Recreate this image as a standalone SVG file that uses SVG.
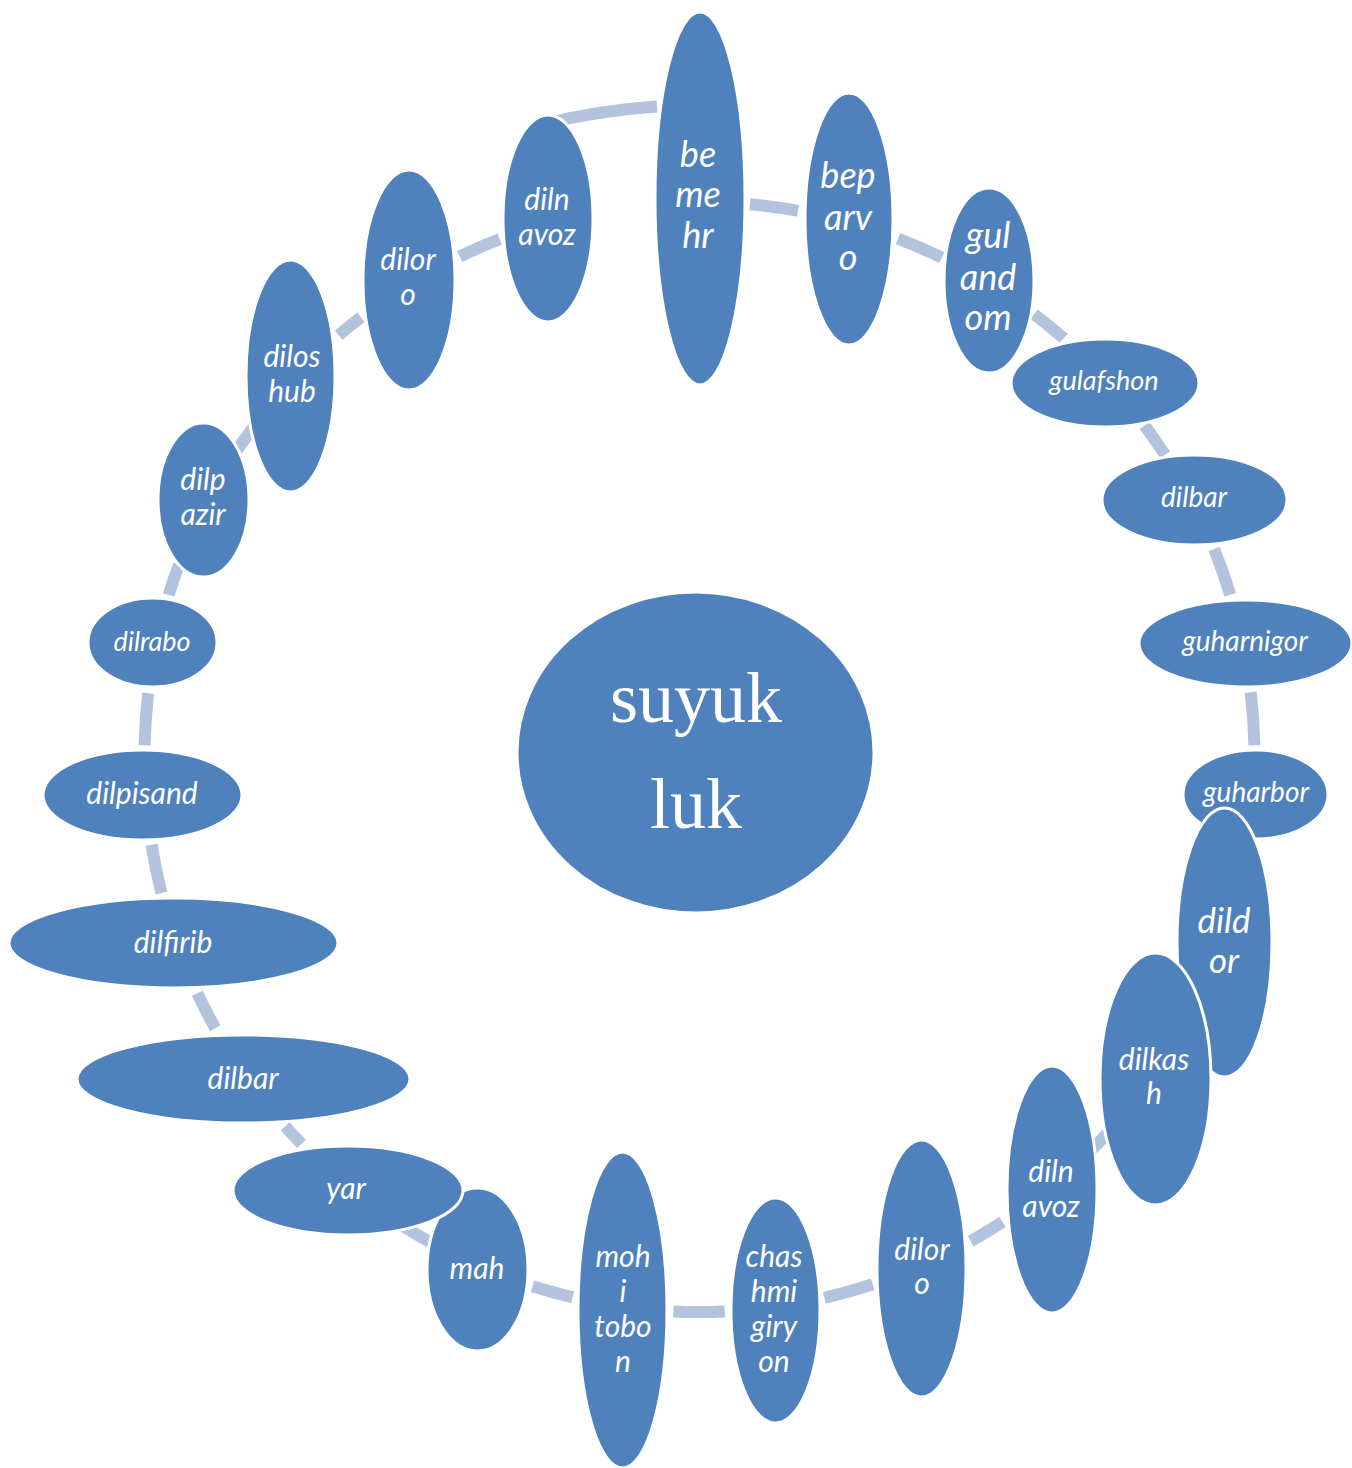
<svg xmlns="http://www.w3.org/2000/svg" width="1352" height="1468" viewBox="0 0 1352 1468">
<style>
.n{fill:#4F81BD;stroke:#FFFFFF;stroke-width:3}
.t{fill:#FFFFFF;font-family:Lato,"Open Sans","Liberation Sans",sans-serif;font-style:italic;text-anchor:middle}
.c{fill:none;stroke:#B3C3DE;stroke-width:12;stroke-linecap:butt}
.ctr{fill:#FFFFFF;font-family:"Liberation Serif","Times New Roman",serif;font-size:72px;text-anchor:middle}
</style>
<rect width="1352" height="1468" fill="#FFFFFF"/>
<g id="connectors">
<path class="c" d="M541.8 124.4 A652 652 0 0 1 657 106.4"/>
<path class="c" d="M750 204.3 A555 555 0 0 1 798 210.8"/>
<path class="c" d="M898 238.7 A555 555 0 0 1 941.9 257.7"/>
<path class="c" d="M1034.1 314.2 A555 555 0 0 1 1063.8 338.3"/>
<path class="c" d="M1144.5 425.3 A555 555 0 0 1 1165 454.7"/>
<path class="c" d="M1214.1 549.1 A555 555 0 0 1 1230.2 594.7"/>
<path class="c" d="M1250.7 692.3 A555 555 0 0 1 1254.4 745.4"/>
<path class="c" d="M1108.7 1131.9 A555 555 0 0 1 1088.5 1152.9"/>
<path class="c" d="M1002.6 1221.9 A555 555 0 0 1 970.7 1241.2"/>
<path class="c" d="M872.8 1284.2 A555 555 0 0 1 824.4 1297.8"/>
<path class="c" d="M724.7 1311.4 A555 555 0 0 1 673.4 1311.4"/>
<path class="c" d="M572.7 1297.4 A555 555 0 0 1 532.6 1286.3"/>
<path class="c" d="M456.2 1255.8 A555 555 0 0 1 389.1 1217.1"/>
<path class="c" d="M301.6 1143.9 A555 555 0 0 1 285.1 1126.2"/>
<path class="c" d="M215.3 1028.2 A555 555 0 0 1 197.3 993.3"/>
<path class="c" d="M161.5 893.1 A555 555 0 0 1 151.5 844.8"/>
<path class="c" d="M144.6 745.4 A555 555 0 0 1 148.2 693.2"/>
<path class="c" d="M168.7 594.9 A555 555 0 0 1 179 564.5"/>
<path class="c" d="M228.8 462.9 A555 555 0 0 1 256.3 423"/>
<path class="c" d="M338.6 335.3 A555 555 0 0 1 360.9 317.3"/>
<path class="c" d="M459.7 256.5 A555 555 0 0 1 499.7 239.2"/>
</g>
<g id="center">
<ellipse class="n" cx="695.5" cy="752.5" rx="178.5" ry="160.5"/>
<text class="ctr" x="696" y="722">suyuk</text>
<text class="ctr" x="696" y="828">luk</text>
</g>
<g id="n1"><ellipse class="n" cx="700" cy="198.5" rx="45" ry="186.5"/>
<text class="t" font-size="36" x="698" y="167">be</text><text class="t" font-size="36" x="698" y="207">me</text><text class="t" font-size="36" x="698" y="248">hr</text></g>
<g id="n2"><ellipse class="n" cx="849" cy="219" rx="44" ry="126"/>
<text class="t" font-size="36" x="848" y="188">bep</text><text class="t" font-size="36" x="848" y="230">arv</text><text class="t" font-size="36" x="848" y="270">o</text></g>
<g id="n3"><ellipse class="n" cx="989" cy="280.5" rx="45" ry="92.5"/>
<text class="t" font-size="36" x="988" y="248">gul</text><text class="t" font-size="36" x="988" y="290">and</text><text class="t" font-size="36" x="988" y="330">om</text></g>
<g id="n4"><ellipse class="n" cx="1105" cy="383" rx="94" ry="44"/>
<text class="t" font-size="27" x="1104" y="390">gulafshon</text></g>
<g id="n5"><ellipse class="n" cx="1194.5" cy="500" rx="92.5" ry="45"/>
<text class="t" font-size="28" x="1194" y="507">dilbar</text></g>
<g id="n6"><ellipse class="n" cx="1245.5" cy="643.5" rx="106.5" ry="43.5"/>
<text class="t" font-size="28" x="1245" y="651">guharnigor</text></g>
<g id="n7"><ellipse class="n" cx="1255.5" cy="794.5" rx="72.5" ry="44.5"/>
<text class="t" font-size="28" x="1256" y="802">guharbor</text></g>
<g id="n8"><ellipse class="n" cx="1224.5" cy="942.5" rx="47.5" ry="134.5"/>
<text class="t" font-size="35" x="1224" y="933">dild</text><text class="t" font-size="35" x="1224" y="973">or</text></g>
<g id="n9"><ellipse class="n" cx="1155.5" cy="1079" rx="55.5" ry="126"/>
<text class="t" font-size="30" x="1154" y="1070">dilkas</text><text class="t" font-size="30" x="1154" y="1104">h</text></g>
<g id="n10"><ellipse class="n" cx="1052" cy="1189.5" rx="45" ry="123.5"/>
<text class="t" font-size="30" x="1051" y="1182">diln</text><text class="t" font-size="30" x="1051" y="1217">avoz</text></g>
<g id="n11"><ellipse class="n" cx="921.5" cy="1268.5" rx="44.5" ry="128.5"/>
<text class="t" font-size="30" x="922" y="1260">dilor</text><text class="t" font-size="30" x="922" y="1294">o</text></g>
<g id="n12"><ellipse class="n" cx="775.5" cy="1310.5" rx="44.5" ry="112.5"/>
<text class="t" font-size="30" x="774" y="1267">chas</text><text class="t" font-size="30" x="774" y="1302">hmi</text><text class="t" font-size="30" x="774" y="1337">giry</text><text class="t" font-size="30" x="774" y="1372">on</text></g>
<g id="n13"><ellipse class="n" cx="622.5" cy="1310" rx="44.5" ry="158"/>
<text class="t" font-size="30" x="623" y="1267">moh</text><text class="t" font-size="30" x="623" y="1302">i</text><text class="t" font-size="30" x="623" y="1337">tobo</text><text class="t" font-size="30" x="623" y="1372">n</text></g>
<g id="n14"><ellipse class="n" cx="477.5" cy="1269.5" rx="50.5" ry="81.5"/>
<text class="t" font-size="30" x="477" y="1279">mah</text></g>
<g id="n15"><ellipse class="n" cx="348" cy="1190.5" rx="115" ry="44.5"/>
<text class="t" font-size="30" x="346" y="1199">yar</text></g>
<g id="n16"><ellipse class="n" cx="243.5" cy="1079" rx="166.5" ry="44"/>
<text class="t" font-size="30" x="243" y="1089">dilbar</text></g>
<g id="n17"><ellipse class="n" cx="173.5" cy="943" rx="164.5" ry="45"/>
<text class="t" font-size="30" x="173" y="953">dilfirib</text></g>
<g id="n18"><ellipse class="n" cx="142.5" cy="795" rx="99.5" ry="45"/>
<text class="t" font-size="30" x="142" y="804">dilpisand</text></g>
<g id="n19"><ellipse class="n" cx="152.5" cy="642.5" rx="64.5" ry="44.5"/>
<text class="t" font-size="27" x="152" y="651">dilrabo</text></g>
<g id="n20"><ellipse class="n" cx="203.5" cy="500" rx="45.5" ry="77"/>
<text class="t" font-size="30" x="203" y="490">dilp</text><text class="t" font-size="30" x="203" y="525">azir</text></g>
<g id="n21"><ellipse class="n" cx="290.5" cy="376" rx="44.5" ry="116"/>
<text class="t" font-size="30" x="292" y="367">dilos</text><text class="t" font-size="30" x="292" y="402">hub</text></g>
<g id="n22"><ellipse class="n" cx="409" cy="280" rx="46" ry="110"/>
<text class="t" font-size="30" x="408" y="270">dilor</text><text class="t" font-size="30" x="408" y="305">o</text></g>
<g id="n23"><ellipse class="n" cx="548" cy="218.5" rx="45" ry="103.5"/>
<text class="t" font-size="30" x="547" y="210">diln</text><text class="t" font-size="30" x="547" y="245">avoz</text></g>
</svg>
